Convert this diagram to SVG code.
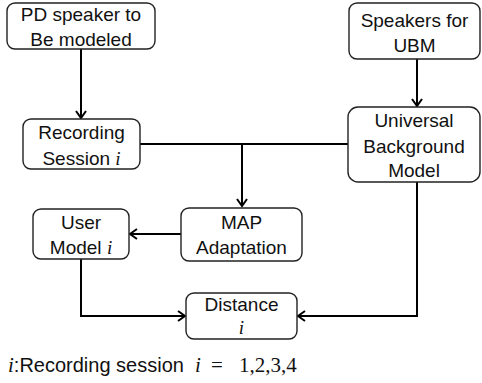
<svg xmlns="http://www.w3.org/2000/svg" width="482" height="383" viewBox="0 0 482 383">
<style>
.box{fill:#fff;stroke:#222;stroke-width:1.4}
.t{font-family:"Liberation Sans",Arial,sans-serif;font-size:19px;fill:#111;text-anchor:middle}
.m{font-family:"Liberation Serif","Times New Roman",serif;font-style:italic}
.c{fill:none;stroke:#000;stroke-width:2}
</style>
<defs>
<marker id="a" markerWidth="12" markerHeight="12" refX="10" refY="6" orient="auto" markerUnits="userSpaceOnUse">
<path d="M3,1 L10,6 L3,11" fill="none" stroke="#000" stroke-width="2"/>
</marker>
</defs>
<g id="connectors">
<path class="c" d="M81,49 V118" marker-end="url(#a)"/>
<path class="c" d="M417,59 V106" marker-end="url(#a)"/>
<path class="c" d="M140,144 H348"/>
<path class="c" d="M242,144 V206" marker-end="url(#a)"/>
<path class="c" d="M181,234 H130" marker-end="url(#a)"/>
<path class="c" d="M81,259 V316 H185" marker-end="url(#a)"/>
<path class="c" d="M417,182 V316 H298" marker-end="url(#a)"/>
</g>
<g id="pd">
<rect class="box" x="7" y="3" width="148" height="46" rx="8"/>
<text class="t" x="81" y="21">PD speaker to</text>
<text class="t" x="81" y="45.5">Be modeled</text>
</g>
<g id="spk">
<rect class="box" x="349" y="3" width="131" height="56" rx="8"/>
<text class="t" x="414.5" y="27">Speakers for</text>
<text class="t" x="414.5" y="52">UBM</text>
</g>
<g id="rec">
<rect class="box" x="23" y="119" width="117" height="50" rx="8"/>
<text class="t" x="81.5" y="139">Recording</text>
<text class="t" x="81.5" y="164.5">Session <tspan class="m">i</tspan></text>
</g>
<g id="ubm">
<rect class="box" x="348" y="107" width="132" height="75" rx="10"/>
<text class="t" x="414" y="127">Universal</text>
<text class="t" x="414" y="152.5">Background</text>
<text class="t" x="414" y="177">Model</text>
</g>
<g id="map">
<rect class="box" x="181" y="208" width="121" height="53" rx="8"/>
<text class="t" x="241.5" y="229">MAP</text>
<text class="t" x="241.5" y="254">Adaptation</text>
</g>
<g id="user">
<rect class="box" x="33" y="209" width="96" height="50" rx="8"/>
<text class="t" x="81" y="229">User</text>
<text class="t" x="81" y="254">Model <tspan class="m">i</tspan></text>
</g>
<g id="dist">
<rect class="box" x="186" y="293" width="111" height="46" rx="8"/>
<text class="t" x="241.5" y="311">Distance</text>
<text class="t m" x="241.5" y="334">i</text>
</g>
<text x="8" y="372" font-family="Liberation Sans,Arial,sans-serif" font-size="20" fill="#111"><tspan class="m" font-size="21">i</tspan>:Recording session <tspan class="m" font-size="21" x="195">i</tspan><tspan font-family="Liberation Serif,serif" font-size="21" x="211">=</tspan><tspan font-family="Liberation Serif,serif" font-size="21" x="239">1,2,3,4</tspan></text>
</svg>
